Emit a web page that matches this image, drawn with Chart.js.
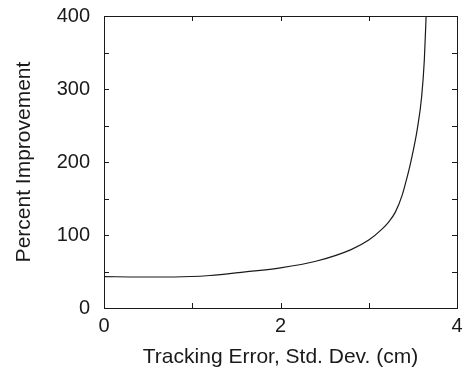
<!DOCTYPE html>
<html>
<head>
<meta charset="utf-8">
<title>Percent Improvement vs Tracking Error</title>
<script src="https://cdn.jsdelivr.net/npm/chart.js@4.4.1/dist/chart.umd.min.js"></script>
<style>
  html, body { margin: 0; padding: 0; background: #fff; }
  #wrap { width: 464px; height: 375px; }
</style>
</head>
<body>
<div id="wrap"><canvas id="chart" width="464" height="375"></canvas></div>
<script>
// --- data ---
const trackingError = [0, 0.4, 0.8, 1.2, 1.6, 2.0, 2.4, 2.8, 3.0, 3.15, 3.22, 3.3, 3.38, 3.43, 3.48, 3.55, 3.6, 3.63, 3.65];
const improvement   = [43, 42.5, 42.5, 44.5, 49.5, 55, 64, 80, 93, 108, 117, 131, 155, 177, 202, 245, 290, 340, 400];

const xTickMarks = [0, 1, 2, 3, 4];
const yTickMarks = [0, 50, 100, 150, 200, 250, 300, 350, 400];
const xTickLabels = [0, 2, 4];
const yTickLabels = [0, 100, 200, 300, 400];

const INK = '#1a1a1a';
const FONT = "'Liberation Sans', Arial, Helvetica, sans-serif";

// box frame + inward tick marks on all four sides
const frameTicks = {
  id: 'frameTicks',
  afterDraw(chart) {
    const { ctx, chartArea: a, scales } = chart;
    ctx.save();
    ctx.strokeStyle = INK;
    ctx.lineWidth = 1;
    ctx.strokeRect(a.left + 0.5, a.top + 0.5, a.right - a.left, a.bottom - a.top);
    ctx.beginPath();
    xTickMarks.forEach(v => {
      const px = Math.round(scales.x.getPixelForValue(v)) + 0.5;
      ctx.moveTo(px, a.bottom); ctx.lineTo(px, a.bottom - 5);
      ctx.moveTo(px, a.top); ctx.lineTo(px, a.top + 5);
    });
    yTickMarks.forEach(v => {
      const py = Math.round(scales.y.getPixelForValue(v)) + 0.5;
      ctx.moveTo(a.left, py); ctx.lineTo(a.left + 5, py);
      ctx.moveTo(a.right, py); ctx.lineTo(a.right - 5, py);
    });
    ctx.stroke();
    ctx.restore();
  }
};

new Chart(document.getElementById('chart'), {
  type: 'line',
  data: {
    datasets: [{
      data: trackingError.map((x, i) => ({ x, y: improvement[i] })),
      borderColor: INK,
      borderWidth: 1.2,
      pointRadius: 0,
      fill: false,
      cubicInterpolationMode: 'monotone'
    }]
  },
  options: {
    responsive: false,
    animation: false,
    layout: { padding: { left: 0, right: 7, top: 16, bottom: 0 } },
    plugins: { legend: { display: false }, tooltip: { enabled: false } },
    scales: {
      x: {
        type: 'linear',
        min: 0, max: 4,
        afterFit: s => { s.height = 67; s.paddingLeft = 0; s.paddingRight = 0; },
        afterBuildTicks: s => { s.ticks = xTickLabels.map(v => ({ value: v })); },
        grid: { display: false, drawTicks: false },
        border: { display: false },
        ticks: { color: INK, padding: 6, font: { family: FONT, size: 20 }, maxRotation: 0 },
        title: { display: true, text: 'Tracking Error, Std. Dev. (cm)', color: INK,
                 font: { family: FONT, size: 21 }, padding: { top: 0, bottom: 5 } }
      },
      y: {
        min: 0, max: 400,
        afterFit: s => { s.width = 104; s.paddingTop = 0; s.paddingBottom = 0; },
        afterBuildTicks: s => { s.ticks = yTickLabels.map(v => ({ value: v })); },
        grid: { display: false, drawTicks: false },
        border: { display: false },
        ticks: { color: INK, padding: 14, font: { family: FONT, size: 20 } },
        title: { display: true, text: 'Percent Improvement', color: INK,
                 font: { family: FONT, size: 21 }, padding: { top: 12, bottom: 0 } }
      }
    }
  },
  plugins: [frameTicks]
});
</script>
</body>
</html>
